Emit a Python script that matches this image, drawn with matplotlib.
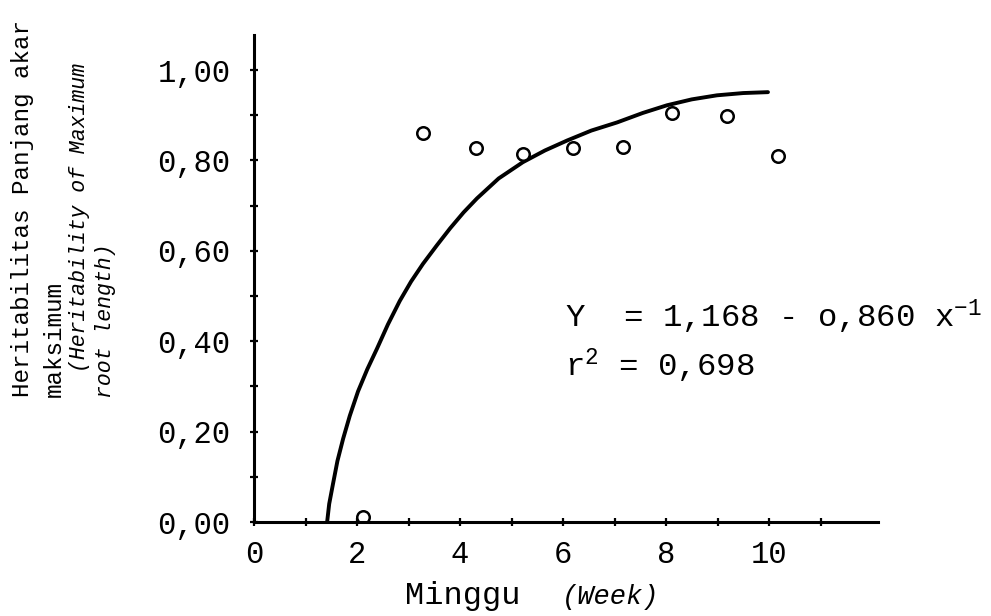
import matplotlib
matplotlib.use("Agg")
import matplotlib.pyplot as plt

# typewriter look
plt.rcParams['font.family'] = ['Liberation Mono', 'DejaVu Sans Mono']
plt.rcParams['mathtext.fontset'] = 'custom'
plt.rcParams['mathtext.rm'] = 'Liberation Mono'
plt.rcParams['mathtext.it'] = 'Liberation Mono:italic'

## data
week = [2.12, 3.28, 4.31, 5.22, 6.19, 7.17, 8.12, 9.18, 10.17]
herit = [0.01, 0.861, 0.827, 0.814, 0.827, 0.830, 0.905, 0.898, 0.810]

# fitted curve as drawn in the figure (traced)
curve_x = [1.42, 1.46, 1.53, 1.62, 1.73, 1.86, 2.02, 2.20, 2.39, 2.60, 2.83, 3.05, 3.28,
           3.55, 3.81, 4.07, 4.33, 4.75, 5.22, 5.65, 6.08, 6.55, 7.05, 7.55, 8.02, 8.50,
           8.99, 9.50, 9.98]
curve_y = [0.0, 0.040, 0.082, 0.135, 0.184, 0.235, 0.289, 0.338, 0.384, 0.437, 0.489, 0.532, 0.571,
           0.612, 0.650, 0.685, 0.716, 0.760, 0.796, 0.822, 0.844, 0.866, 0.884, 0.905, 0.922, 0.935,
           0.944, 0.949, 0.951]

xticks = [0, 2, 4, 6, 8, 10]
xticklabels = ["0", "2", "4", "6", "8", "10"]
yticks = [0.0, 0.2, 0.4, 0.6, 0.8, 1.0]
yticklabels = ["0,00", "0,20", "0,40", "0,60", "0,80", "1,00"]

W, H = 991, 616
fig = plt.figure(figsize=(W/100, H/100), dpi=100)
ax = fig.add_axes([254/W, 1-522/H, (878-254)/W, (522-35)/H])

ax.plot(curve_x, curve_y, color="black", lw=2.8, solid_capstyle="round", solid_joinstyle="round")
ax.plot(week, herit, "o", ms=9, mfc="white", mec="black", mew=1.8, ls="none")

ax.set_xlim(0, (878-254)/51.5)
ax.set_ylim(0, (522-35)/452)

for s in ["top", "right"]:
    ax.spines[s].set_visible(False)
for s in ["left", "bottom"]:
    ax.spines[s].set_linewidth(2.2)

ax.set_xticks(range(0, 12))
ax.set_xticklabels([xticklabels[xticks.index(i)] if i in xticks else "" for i in range(0, 12)])
ax.set_yticks([i/10 for i in range(0, 11)])
ax.set_yticklabels([yticklabels[i//2] if i % 2 == 0 else "" for i in range(0, 11)])
ax.tick_params(axis="both", direction="inout", length=6, width=1.6, labelsize=22)
ax.tick_params(axis="x", pad=10)
ax.tick_params(axis="y", pad=14)

# regression text
ax.text(6.04, 0.43, r"Y  = 1,168 - o,860 x$^{-1}$", fontsize=23.3, va="baseline", ha="left")
ax.text(6.04, 0.322, r"r$^{2}$ = 0,698", fontsize=23.3, va="baseline", ha="left")

# x label, regular + italic part
fig.text(405/W, 1-604/H, "Minggu", fontsize=23, va="baseline", ha="left")
fig.text(562/W, 1-604/H, "(Week)", fontsize=19.5, style="italic", va="baseline", ha="left")

# y label, typed in four lines
fig.text(23/W, 1-397/H, "Heritabilitas Panjang akar", fontsize=17.5, rotation=90, ha="center", va="bottom")
fig.text(54/W, 1-397/H, "maksimum", fontsize=17.5, rotation=90, ha="center", va="bottom")
fig.text(80/W, 1-372/H, "(Heritability of Maximum", fontsize=15.5, style="italic", rotation=90, ha="center", va="bottom")
fig.text(106/W, 1-398/H, "root length)", fontsize=15.5, style="italic", rotation=90, ha="center", va="bottom")

fig.savefig("out.png", dpi=100, facecolor="white")
